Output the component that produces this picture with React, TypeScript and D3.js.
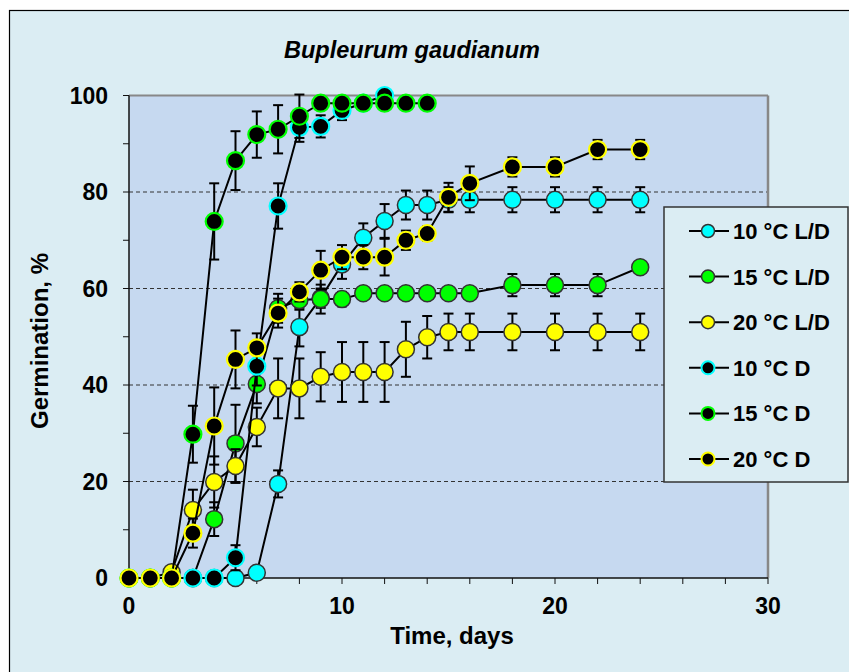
import React from "react";
import * as d3 from "d3";

const title = "Bupleurum gaudianum";
const xLabel = "Time, days";
const yLabel = "Germination, %";
const xTicks = [0, 10, 20, 30];
const yTicks = [0, 20, 40, 60, 80, 100];

const daysFull = [0, 1, 2, 3, 4, 5, 6, 7, 8, 9, 10, 11, 12, 13, 14, 15, 16, 18, 20, 22, 24];

const ld10 = [0, 0, 0, 0, 0, 0, 1.1, 19.5, 52, 58, 65, 70.5, 74, 77.3, 77.3, 78.4, 78.4, 78.4, 78.4, 78.4, 78.4];
const ld10Err = [0, 0, 0, 0, 0, 0, 0, 2.8, 4, 2, 3, 3, 3.5, 3, 3, 2.6, 2.6, 2.6, 2.6, 2.6, 2.6];

const ld15 = [0, 0, 0, 0, 12.2, 27.9, 40.2, 55.9, 57.6, 57.8, 57.8, 59, 59, 59, 59, 59, 59, 60.7, 60.7, 60.7, 64.4];
const ld15Err = [0, 0, 0, 0, 3.5, 8, 4, 3, 2, 3, 1.5, 1, 1, 1, 1, 1, 1, 2.3, 2.3, 2.3, 0];

const ld20 = [0, 0, 1.2, 14.1, 19.9, 23.2, 31.3, 39.3, 39.3, 41.7, 42.7, 42.7, 42.7, 47.4, 49.9, 51, 51, 51, 51, 51, 51];
const ld20Err = [0, 0, 0, 4.2, 5.3, 3.5, 4, 6.2, 6.2, 5.1, 6.2, 6.2, 6.2, 5.7, 4.4, 3.8, 3.8, 3.8, 3.8, 3.8, 3.8];

const daysD10 = [0, 1, 2, 3, 4, 5, 6, 7, 8, 9, 10, 11, 12];
const d10 = [0, 0, 0, 0, 0, 4.2, 43.9, 77.1, 93.4, 93.6, 96.9, 98.4, 100];
const d10Err = [0, 0, 0, 0, 0, 2.6, 4, 4.7, 3, 2.3, 2, 1, 1];

const daysD15 = [0, 1, 2, 3, 4, 5, 6, 7, 8, 9, 10, 11, 12, 13, 14];
const d15 = [0, 0, 0, 29.8, 73.9, 86.5, 91.9, 93, 95.7, 98.4, 98.4, 98.4, 98.4, 98.4, 98.4];
const d15Err = [0, 0, 0, 5.9, 7.9, 6.1, 4.8, 5, 4.5, 1, 1, 1, 1, 1, 1];

const d20 = [0, 0, 0, 9.3, 31.5, 45.3, 47.7, 54.9, 59.3, 63.8, 66.5, 66.5, 66.5, 70, 71.4, 78.9, 81.8, 85.2, 85.2, 88.8, 88.8];
const d20Err = [0, 0, 0, 3, 8, 6, 3, 3, 2, 4, 2.5, 2.5, 3.8, 2, 1.5, 3, 3.5, 2, 2, 2, 2];

const seriesNames = ["10 °C L/D", "15 °C L/D", "20 °C L/D", "10 °C D", "15 °C D", "20 °C D"];

type Series = { name: string; days: number[]; vals: number[]; errs: number[]; fill: string; stroke: string };

const CYAN = "#00FFFF";
const GREEN = "#00FF00";
const YELLOW = "#FFFF00";
const DARK = "#333333";

const series: Series[] = [
  { name: seriesNames[0], days: daysFull, vals: ld10, errs: ld10Err, fill: CYAN, stroke: DARK },
  { name: seriesNames[1], days: daysFull, vals: ld15, errs: ld15Err, fill: GREEN, stroke: DARK },
  { name: seriesNames[2], days: daysFull, vals: ld20, errs: ld20Err, fill: YELLOW, stroke: DARK },
  { name: seriesNames[3], days: daysD10, vals: d10, errs: d10Err, fill: "#000000", stroke: CYAN },
  { name: seriesNames[4], days: daysD15, vals: d15, errs: d15Err, fill: "#000000", stroke: GREEN },
  { name: seriesNames[5], days: daysFull, vals: d20, errs: d20Err, fill: "#000000", stroke: YELLOW },
];

const W = 849;
const H = 672;
const PL = 129, PR = 768, PT = 95.5, PB = 578;
const FONT = "'Liberation Sans', Arial, sans-serif";

export default function App() {
  const x = d3.scaleLinear().domain([0, 30]).range([PL, PR]);
  const y = d3.scaleLinear().domain([0, 100]).range([PB, PT]);
  const line = d3.line<[number, number]>().x((d) => x(d[0])).y((d) => y(d[1]));
  const xMinor = d3.range(0, 31, 2);
  const yMinor = d3.range(0, 101, 10);
  const grid = [20, 40, 60, 80];
  const r = 8.5;
  const cap = 5;

  const lg = { x: 664, y: 207, w: 184, h: 275 };
  const lgRows = seriesNames.map((_, i) => 231 + i * 45.6);

  return (
    <svg width={W} height={H} style={{ position: "fixed", left: 0, top: 0, background: "#fff" }} fontFamily={FONT}>
      <rect x={9.5} y={10.5} width={W + 10} height={H + 10} fill="#DBEDF3" stroke="#000" strokeWidth={1.2} />
      <rect x={PL} y={PT} width={PR - PL} height={PB - PT} fill="#C6D9F0" />
      {grid.map((g) => (
        <line key={g} x1={PL} x2={PR} y1={y(g)} y2={y(g)} stroke="#333" strokeWidth={1} strokeDasharray="4,3" />
      ))}
      <line x1={PL} x2={PR} y1={PT} y2={PT} stroke="#888" strokeWidth={2} />
      <line x1={PR} x2={PR} y1={PT} y2={PB} stroke="#888" strokeWidth={2.5} />
      <line x1={PL} x2={PL} y1={PT} y2={PB} stroke="#111" strokeWidth={1.5} />
      <line x1={PL} x2={PR} y1={PB} y2={PB} stroke="#111" strokeWidth={1.5} />
      {yMinor.map((v) => (
        <line key={"yt" + v} x1={PL - 6} x2={PL} y1={y(v)} y2={y(v)} stroke="#111" strokeWidth={1} />
      ))}
      {xMinor.map((v) => (
        <line key={"xt" + v} x1={x(v)} x2={x(v)} y1={PB} y2={PB + 6} stroke="#111" strokeWidth={1} />
      ))}
      {yTicks.map((v) => (
        <text key={"yl" + v} x={108} y={y(v)} dy="0.36em" textAnchor="end" fontSize={23} fontWeight="bold">
          {v}
        </text>
      ))}
      {xTicks.map((v) => (
        <text key={"xl" + v} x={x(v)} y={614} textAnchor="middle" fontSize={23} fontWeight="bold">
          {v}
        </text>
      ))}
      <text x={452} y={644} textAnchor="middle" fontSize={24} fontWeight="bold">
        {xLabel}
      </text>
      <text transform={`translate(48,341) rotate(-90)`} textAnchor="middle" fontSize={24} fontWeight="bold">
        {yLabel}
      </text>
      <text x={412} y={58} textAnchor="middle" fontSize={23.5} fontWeight="bold" fontStyle="italic">
        {title}
      </text>

      {series.map((s, si) => {
        const pts: [number, number][] = s.days.map((d, i) => [d, s.vals[i]]);
        return (
          <g key={si}>
            {pts.map((p, i) =>
              s.errs[i] > 0 ? (
                <g key={"e" + i} stroke="#000" strokeWidth={2}>
                  <line x1={x(p[0])} x2={x(p[0])} y1={y(p[1] - s.errs[i])} y2={y(p[1] + s.errs[i])} />
                  <line x1={x(p[0]) - cap} x2={x(p[0]) + cap} y1={y(p[1] + s.errs[i])} y2={y(p[1] + s.errs[i])} />
                  <line x1={x(p[0]) - cap} x2={x(p[0]) + cap} y1={y(p[1] - s.errs[i])} y2={y(p[1] - s.errs[i])} />
                </g>
              ) : null
            )}
            <path d={line(pts) || ""} fill="none" stroke="#000" strokeWidth={2} />
            {pts.map((p, i) => (
              <circle key={"c" + i} cx={x(p[0])} cy={y(p[1])} r={r} fill={s.fill} stroke={s.stroke} strokeWidth={s.fill === "#000000" ? 2.2 : 1.5} />
            ))}
          </g>
        );
      })}

      <rect x={lg.x} y={lg.y} width={lg.w} height={lg.h} fill="#DBEDF3" stroke="#333" strokeWidth={1.5} />
      {series.map((s, i) => (
        <g key={"lg" + i}>
          <line x1={689} x2={729} y1={lgRows[i]} y2={lgRows[i]} stroke="#000" strokeWidth={2} />
          <circle cx={708} cy={lgRows[i]} r={6.5} fill={s.fill} stroke={s.stroke} strokeWidth={s.fill === "#000000" ? 2 : 1.5} />
          <text x={733} y={lgRows[i]} dy="0.36em" fontSize={22} fontWeight="bold">
            {s.name}
          </text>
        </g>
      ))}
    </svg>
  );
}
